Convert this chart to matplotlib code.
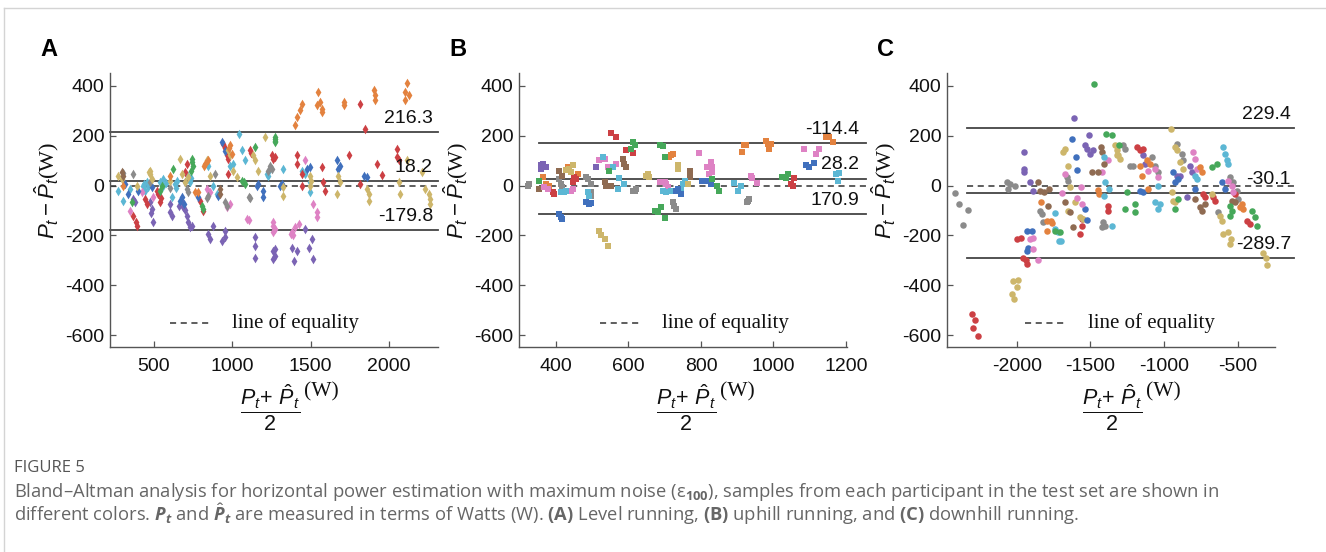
import matplotlib
matplotlib.use("Agg")
import matplotlib.pyplot as plt
from matplotlib.lines import Line2D

plt.rcParams['font.family'] = ['Liberation Sans', 'DejaVu Sans']
plt.rcParams['mathtext.fontset'] = 'custom'
plt.rcParams['mathtext.rm'] = 'Liberation Sans'
plt.rcParams['mathtext.it'] = 'Liberation Sans:italic'
plt.rcParams['mathtext.bf'] = 'Open Sans:bold'
plt.rcParams['mathtext.bfit'] = 'Open Sans:bold:italic'
plt.rcParams['mathtext.sf'] = 'Liberation Serif'

# participant colours
colors = {
    "blue": "#4070bd", "orange": "#e3823f", "green": "#46a85a", "red": "#cc4044",
    "purple": "#7b64b4", "brown": "#8f6b52", "pink": "#de82c4", "gray": "#8b8b8b",
    "khaki": "#cdb66b", "cyan": "#5cb7d4",
}

# ---- panel A: level running (mean, difference) ----
a_cyan = [(273,-20),(305,-60),(348,-13),(433,0),(454,13),(444,-20),(539,13),(561,27),(614,-47),(635,7),
          (646,20),(720,40),(731,13),(837,87),(848,80),(880,0),(901,-34),(986,80),(1008,87),(1040,208),
          (1061,141),(1082,101),(1221,47),(1231,40),(1242,67),(1327,67),(1444,60),(1465,47),(1497,-27),
          (1497,13),(440,5),(460,-5),(560,0),(575,10),(640,-10),(735,30)]
a_purple = [(369,-54),(380,-67),(475,-67),(486,-94),(497,-148),(603,-74),(603,-108),(614,-121),(678,-67),
            (688,-87),(710,-121),(720,-148),(742,-161),(731,-168),(848,-195),(859,-215),(880,-161),(933,-222),
            (954,-208),(954,-181),(1146,-208),(1146,-242),(1146,-289),(1263,-262),(1274,-282),(1263,-293),
            (1274,-255),(1380,-249),(1412,-262),(1391,-302),(1465,-175),(1508,-215),(1487,-249),(1518,-296),
            (480,-110),(700,-100),(660,-80)]
a_pink = [(348,-101),(422,-27),(497,-47),(837,-13),(859,-27),(965,-87),(986,-74),(1093,-135),(1104,-137),
          (1263,-148),(1274,-175),(1263,-161),(1263,-188),(1380,-188),(1401,-168),(1423,-155),(1518,-74),
          (1540,-108),(1540,-128),(1465,101),(1390,-200),(1375,-195)]
a_red = [(369,-121),(386,-148),(390,-161),(444,-54),(454,-74),(529,-34),(539,-67),(710,87),(699,54),(795,-60),
         (816,-101),(944,168),(965,121),(976,107),(1114,141),(1253,121),(1263,107),(976,47),(1274,114),
         (1412,121),(1412,87),(1444,47),(1444,0),(1572,74),(1582,13),(1593,-20),(1742,121),(1817,7),(1817,329),
         (1849,228),(1923,87),(1955,43),(2051,148),(2051,114),(2061,101),(520,-20),(548,-50),(955,150),(1120,130)]
a_blue = [(316,7),(337,-34),(401,-20),(486,-7),(667,-60),(678,-47),(784,-47),(912,-40),(933,175),(1157,0),
          (1167,7),(1199,-20),(1199,-47),(1306,0),(1318,5),(1476,67),(1497,74),(1668,101),(1689,80),(1678,67),
          (1838,40),(1859,33),(690,-75),(955,140)]
a_green = [(358,-67),(539,-20),(550,0),(625,67),(742,94),(752,80),(742,107),(805,-81),(816,-94),(1072,13),
           (1082,7),(1146,154),(1274,188),(1274,175),(1274,195),(1274,181),(740,60),(1060,20)]
a_gray = [(369,47),(475,13),(699,13),(710,-13),(720,-27),(848,-40),(891,47),(954,-67),(965,-81),(1104,-47),
          (1114,-51),(1231,60),(1242,80),(1252,67),(300,50),(600,-10),(840,-50)]
a_khaki = [(273,40),(295,27),(390,0),(475,47),(475,60),(486,27),(603,20),(667,107),(678,47),(699,13),(720,33),
           (837,101),(859,40),(976,141),(986,121),(1008,60),(1029,33),(1135,121),(1146,101),(1167,60),(1210,195),
           (1327,-7),(1327,-40),(1497,40),(1497,0),(1678,40),(1689,13),(1668,-34),(1859,-13),(1870,-34),
           (1870,-60),(2061,13),(2072,-34),(2115,101),(2210,54),(2232,-13),(2253,-34),(2260,-54),(2264,-74),
           (470,55),(1500,20)]
a_orange = [(1401,242),(1412,275),(1433,302),(1444,329),(1550,374),(1540,323),(1561,336),(1572,309),(1572,296),
            (1710,336),(1714,323),(1902,383),(1912,363),(1912,343),(2115,410),(2104,376),(2125,363),(2104,343),
            (603,40),(763,-27),(784,-27),(827,87),(848,101),(986,161),(997,128),(980,150),(300,0),(820,80)]
a_brown = [(295,54),(922,-13),(922,-34),(300,40)]

# ---- panel B: uphill running ----
b_gray = [(326,7),(322,0),(409,27),(414,7),(418,-7),(483,34),(488,27),(497,-27),(497,-40),(497,7),(617,-20),
          (621,-13),(612,-23),(723,-67),(727,-81),(732,-94),(928,-67),(933,-54),(930,-60)]
b_purple = [(358,81),(363,87),(372,74),(358,67),(511,74)]
b_orange = [(363,34),(372,7),(381,0),(432,74),(460,47),(718,121),(723,128),(713,114),(914,134),(919,161),
            (924,164),(979,181),(984,168),(988,148),(993,168),(1145,195),(1154,195),(1163,177)]
b_red = [(391,-27),(395,-34),(446,13),(451,34),(455,27),(552,212),(566,195),(594,141),(612,132),(1048,7),
         (1057,30),(1053,0)]
b_brown = [(354,-13),(409,57),(418,40),(534,13),(538,0),(552,0),(584,107),(589,87),(594,74),(769,60),(769,34)]
b_pink = [(368,-7),(377,-13),(441,-20),(446,-13),(520,101),(534,107),(543,74),(566,87),(686,13),(700,13),
          (704,7),(709,-7),(795,132),(818,74),(827,94),(831,74),(822,47),(831,54),(937,40),(942,30),(956,11),
          (1085,148),(1117,128),(1126,145)]
b_cyan = [(414,-27),(423,-27),(427,-20),(488,-27),(492,-40),(529,114),(557,74),(575,30),(589,7),(570,-13),
          (695,-20),(704,-27),(718,-20),(750,7),(755,20),(746,-13),(891,11),(901,-20),(910,-3),(1173,47),
          (1177,20),(1182,51)]
b_blue = [(409,-114),(414,-128),(418,-134),(483,-64),(492,-74),(497,-70),(732,-20),(736,-13),(746,-34),
          (804,20),(813,20),(827,7),(1090,81),(1099,74),(1111,91)]
b_green = [(354,20),(547,60),(612,175),(617,161),(607,148),(686,164),(695,159),(700,114),(672,-101),(681,-107),
           (690,-87),(700,-132),(831,27),(845,0),(850,-20),(1025,34),(1039,47),(1034,30)]
b_khaki = [(428,61),(437,67),(446,81),(441,54),(520,-181),(524,-199),(534,-215),(543,-242),(653,47),(658,34),
           (649,40),(736,81),(736,67),(764,7)]

# ---- panel C: downhill running ----
c_gray = [(-2419,-30),(-2391,-74),(-2333,-97),(-2362,-157),(-2068,16),(-2046,7),(-2012,0),(-2057,-13),
          (-1842,-101),(-1831,-114),(-1819,-148),(-1661,34),(-1650,20),(-1412,-148),(-1424,-168),(-1401,-161),
          (-1277,161),(-1265,148),(-1231,80),(-1209,78),(-1084,114),(-1062,80),(-1039,54),(-915,168),(-881,128),
          (-870,101),(-632,-108),(-553,34),(-531,13),(-497,-54),(-508,-20)]
c_purple = [(-1948,134),(-1951,67),(-1948,54),(-1910,13),(-1887,-20),(-1609,272),(-1510,204),(-1537,164),
            (-1526,148),(-1503,128),(-1480,141),(-1141,121),(-1130,87),(-915,40),(-892,40),(-847,-47),(-813,54),
            (-824,80)]
c_red = [(-2306,-517),(-2283,-540),(-2294,-571),(-2260,-602),(-2000,-215),(-1971,-212),(-1955,-289),(-1939,-298),
         (-1932,-313),(-1559,-164),(-1571,-195),(-1555,-134),(-1383,-81),(-1378,-101),(-1186,154),(-1164,141),
         (-1141,148),(-723,-47),(-734,-34),(-666,-47),(-655,-60),(-440,-141),(-417,-155),(-519,-34)]
c_khaki = [(-2023,-383),(-1993,-379),(-2000,-406),(-2034,-437),(-2018,-454),(-1672,148),(-1684,134),(-1650,80),
           (-1638,-7),(-1650,-101),(-1605,-67),(-1571,-128),(-1548,-134),(-1322,121),(-1333,164),(-1322,141),
           (-1310,121),(-1299,107),(-953,226),(-926,154),(-915,141),(-892,94),(-870,67),(-949,-27),(-938,-60),
           (-926,-67),(-677,-34),(-621,-121),(-610,-141),(-598,-195),(-564,-185),(-546,-215),(-553,-235),
           (-327,-269),(-311,-289),(-304,-320)]
c_blue = [(-1932,-181),(-1894,-184),(-1925,-249),(-1932,-262),(-1627,188),(-1600,114),(-1593,64),(-1537,-94),
          (-1526,-139),(-1164,-20),(-1141,-27),(-938,54),(-926,13),(-904,27),(-791,-13),(-610,13),(-587,-13)]
c_pink = [(-1910,-215),(-1887,-212),(-1887,-253),(-1858,-300),(-1695,-30),(-1672,47),(-1564,-4),(-1593,-51),
          (-1559,-74),(-1378,101),(-1424,54),(-1107,60),(-1062,67),(-1039,34),(-802,134),(-791,107),(-779,67),
          (-564,20),(-542,0),(-531,-27)]
c_brown = [(-1853,16),(-1842,-20),(-1817,-27),(-1781,-13),(-1785,-81),(-1672,-67),(-1638,-105),(-1616,-168),
           (-1492,54),(-1446,54),(-1428,154),(-1424,134),(-1406,87),(-791,-54),(-757,-87),(-745,-101),(-723,-74),
           (-542,-60),(-519,-67)]
c_orange = [(-1835,-65),(-1797,-141),(-1767,-141),(-1758,-150),(-1797,-181),(-1451,-16),(-1442,-34),(-1164,80),
            (-1152,40),(-1118,101),(-1096,87),(-757,74),(-745,54),(-1107,-13),(-485,-87),(-463,-94),(-474,-74)]
c_cyan = [(-1740,-110),(-1740,-175),(-1722,-188),(-1713,-224),(-1700,-224),(-1406,114),(-1401,13),(-1374,-13),
          (-1356,-164),(-1406,-40),(-1039,0),(-1062,-67),(-1039,-94),(-1028,-74),(-791,40),(-779,27),(-598,154),
          (-587,128),(-576,101),(-564,87)]
c_green = [(-1740,-181),(-1706,-188),(-1473,406),(-1396,208),(-1356,204),(-1306,164),(-1254,-27),(-1265,-94),
           (-1197,-74),(-1197,-108),(-926,-94),(-904,-54),(-677,74),(-644,87),(-553,-81),(-542,-101),(-553,-121),
           (-384,-128),(-372,-161),(-406,-101)]

# limits of agreement / mean lines and the labels printed next to them
a_lines = [216.3, 18.2, -179.8]
a_labels = ["216.3", "18.2", "-179.8"]
b_lines = [170.9, 28.2, -114.4]
b_labels = ["-114.4", "28.2", "170.9"]
c_lines = [229.4, -30.1, -289.7]
c_labels = ["229.4", "-30.1", "-289.7"]

yticks = [400, 200, 0, -200, -400, -600]
a_xticks = [500, 1000, 1500, 2000]
b_xticks = [400, 600, 800, 1000, 1200]
c_xticks = [-2000, -1500, -1000, -500]

panels = [
    dict(letter="A", marker="d", size=24, xlim=(220, 2313), span=(220, 2313), xticks=a_xticks,
         lines=a_lines, labels=a_labels, txt_dx=-32, left=110,
         groups=[("cyan", a_cyan), ("purple", a_purple), ("pink", a_pink), ("red", a_red), ("blue", a_blue),
                 ("green", a_green), ("gray", a_gray), ("khaki", a_khaki), ("orange", a_orange), ("brown", a_brown)],
         leg=(0.183, 0.305, 0.372), frac_x=0.488, w_x=0.645),
    dict(letter="B", marker="s", size=14, xlim=(298, 1203), span=(354, 1255), xticks=b_xticks,
         lines=b_lines, labels=b_labels, txt_dx=-19, left=519,
         groups=[("gray", b_gray), ("purple", b_purple), ("orange", b_orange), ("red", b_red), ("brown", b_brown),
                 ("pink", b_pink), ("cyan", b_cyan), ("blue", b_blue), ("green", b_green), ("khaki", b_khaki)],
         leg=(0.248, 0.373, 0.437), frac_x=0.508, w_x=0.665),
    dict(letter="C", marker="o", size=22, xlim=(-2473, -248), span=(-2340, -119), xticks=c_xticks,
         lines=c_lines, labels=c_labels, txt_dx=-20, left=947,
         groups=[("gray", c_gray), ("purple", c_purple), ("red", c_red), ("khaki", c_khaki), ("blue", c_blue),
                 ("pink", c_pink), ("brown", c_brown), ("orange", c_orange), ("cyan", c_cyan), ("green", c_green)],
         leg=(0.238, 0.366, 0.43), frac_x=0.502, w_x=0.66),
]

W, H = 1326, 552
fig = plt.figure(figsize=(W / 100, H / 100), dpi=100)
fig.patch.set_facecolor("white")

# thin page frame
fig.add_artist(Line2D([4 / W, 4 / W], [0, 1 - 8 / H], color="#d4d4d4", lw=1))
fig.add_artist(Line2D([4 / W, 1], [1 - 8 / H, 1 - 8 / H], color="#d4d4d4", lw=1))

for p in panels:
    ax = fig.add_axes([p["left"] / W, 1 - 347 / H, 328 / W, 274 / H])
    for cname, pts in p["groups"]:
        xs = [q[0] for q in pts]
        ys = [q[1] for q in pts]
        ax.scatter(xs, ys, s=p["size"], marker=p["marker"], color=colors[cname], linewidths=0, zorder=3)

    x0, x1 = p["span"]
    ax.plot([x0, x1], [0, 0], color="#333333", lw=1.1, ls=(0, (4, 3)), clip_on=False, zorder=2)
    for yv, lab in zip(p["lines"], p["labels"]):
        ax.plot([x0, x1], [yv, yv], color="#444444", lw=1.3, clip_on=False, zorder=2)
        ax.text(x1 + p["txt_dx"], yv + 55, lab, ha="right", va="center", fontsize=14, color="#111111")

    ax.set_xlim(*p["xlim"])
    ax.set_ylim(-648, 452)
    ax.set_yticks(yticks)
    ax.set_yticklabels([str(t) for t in yticks])
    ax.set_xticks(p["xticks"])
    ax.set_xticklabels([str(t) for t in p["xticks"]])
    for s in ["top", "right"]:
        ax.spines[s].set_visible(False)
    for s in ["left", "bottom"]:
        ax.spines[s].set_color("#555555")
        ax.spines[s].set_linewidth(1.0)
    ax.tick_params(direction="in", length=4, width=0.9, color="#555555", labelsize=14, labelcolor="#111111")
    ax.tick_params(axis="x", pad=8)
    ax.tick_params(axis="y", pad=4)

    # legend entry
    l0, l1, lt = p["leg"]
    ax.plot([l0, l1], [0.0876, 0.0876], transform=ax.transAxes, color="#333333", lw=1.1, ls=(0, (4, 3)))
    ax.text(lt, 0.0876, "line of equality", transform=ax.transAxes, ha="left", va="center",
            family="Liberation Serif", fontsize=15, color="#111111")

    # axis labels
    ax.set_ylabel(r"$P_t - \hat{P}_t\mathsf{(W)}$", fontsize=16, color="#111111")
    ax.yaxis.set_label_coords(-0.15, 0.57)
    ax.text(p["frac_x"], -0.222, r"$\dfrac{P_t\!+\,\hat{P}_t}{2}$", transform=ax.transAxes,
            ha="center", va="center", fontsize=15.5, color="#111111")
    ax.text(p["w_x"], -0.165, "(W)", transform=ax.transAxes, ha="center", va="center",
            family="Liberation Serif", fontsize=15.5, color="#111111")

    fig.text((p["left"] - 70) / W, 1 - 50 / H, p["letter"], fontsize=17, fontweight="bold",
             ha="left", va="center")

# caption
cap_font = ["Open Sans", "DejaVu Sans"]
fig.text(14 / W, 1 - 468 / H, "FIGURE 5", fontsize=12, color="#555555", family=cap_font, va="center")
fig.text(14 / W, 1 - 492 / H,
         "Bland\u2013Altman analysis for horizontal power estimation with maximum noise (\u03b5$_{\\mathbf{100}}$), "
         "samples from each participant in the test set are shown in",
         fontsize=13.2, color="#666666", family=cap_font, va="center")
fig.text(14 / W, 1 - 514 / H,
         r"different colors. $\mathbfit{P}_{\mathbfit{t}}$ and $\hat{\mathbfit{P}}_{\mathbfit{t}}$ are measured "
         r"in terms of Watts (W). $\mathbf{(A)}$ Level running, $\mathbf{(B)}$ uphill running, and "
         r"$\mathbf{(C)}$ downhill running.",
         fontsize=13.2, color="#666666", family=cap_font, va="center")

fig.savefig("out.png", dpi=100)
